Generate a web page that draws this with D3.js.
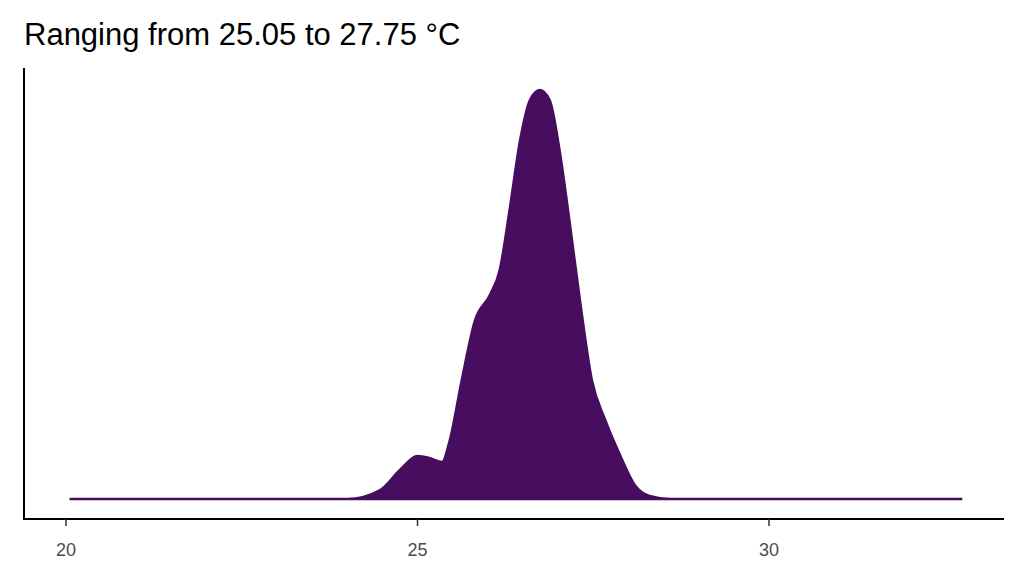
<!DOCTYPE html>
<html><head><meta charset="utf-8">
<script src="https://cdn.jsdelivr.net/npm/d3@7"></script>
<style>body{margin:0;background:#fff}</style></head>
<body><svg id="c" width="1024" height="576"></svg>
<script>
const temps =   [20.05, 24.0, 24.47, 24.75, 25.0, 25.17, 25.35, 25.46, 25.63, 25.82, 26.03, 26.17, 26.31, 26.46, 26.6, 26.74, 26.88, 27.02, 27.16, 27.31, 27.48, 27.67, 27.88, 28.09, 28.3, 28.59, 32.75];
const density = [0, 0, 0.018, 0.058, 0.086, 0.082, 0.074, 0.118, 0.238, 0.358, 0.408, 0.458, 0.578, 0.718, 0.798, 0.818, 0.798, 0.698, 0.558, 0.398, 0.238, 0.158, 0.088, 0.028, 0.006, 0, 0];
const xTicks = [20, 25, 30];
const title = "Ranging from 25.05 to 27.75 °C";

const svg = d3.select("#c");
const x = d3.scaleLinear().domain([20, 30]).range([66, 769]);
const y = d3.scaleLinear().domain([0, 0.818]).range([499, 90]);
const data = temps.map((t, i) => ({t, d: density[i]}));

svg.append("path").datum(data)
  .attr("d", d3.area().x(p => x(p.t)).y0(y(0)).y1(p => y(p.d)).curve(d3.curveMonotoneX))
  .attr("fill", "#470D5E").attr("stroke", "#470D5E").attr("stroke-width", 2.5);

svg.append("line").attr("x1", 24).attr("x2", 24).attr("y1", 68).attr("y2", 520).attr("stroke", "#000").attr("stroke-width", 2);
svg.append("line").attr("x1", 23).attr("x2", 1004).attr("y1", 519).attr("y2", 519).attr("stroke", "#000").attr("stroke-width", 2);

const g = svg.append("g");
xTicks.forEach(v => {
  g.append("line").attr("x1", x(v)).attr("x2", x(v)).attr("y1", 519).attr("y2", 526).attr("stroke", "#333").attr("stroke-width", 1.5);
  g.append("text").attr("x", x(v)).attr("y", 556).attr("text-anchor", "middle")
    .attr("font-family", "Liberation Sans, Arial, sans-serif").attr("font-size", 18).attr("fill", "#4d4d4d").text(v);
});
svg.append("text").attr("x", 24).attr("y", 45).attr("font-family", "Liberation Sans, Arial, sans-serif")
  .attr("font-size", 31).attr("fill", "#000").text(title);
</script></body></html>
